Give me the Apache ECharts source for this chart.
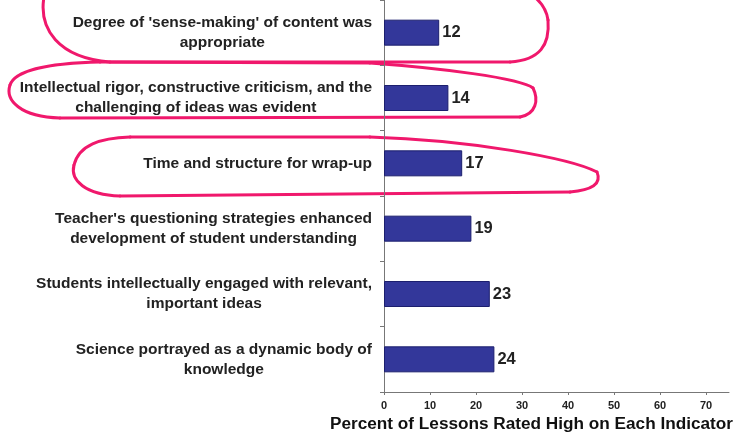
<!DOCTYPE html>
<html><head><meta charset="utf-8">
<script src="https://cdn.jsdelivr.net/npm/echarts@6/dist/echarts.min.js"></script>
<style>html,body{margin:0;padding:0;background:#fff}#c{width:737px;height:438px}</style>
</head><body><div id="c"></div>
<script>
const categories = [
  "Science portrayed as a dynamic body of\nknowledge",
  "Students intellectually engaged with relevant,\nimportant ideas",
  "Teacher's questioning strategies enhanced\ndevelopment of student understanding",
  "Time and structure for wrap-up",
  "Intellectual rigor, constructive criticism, and the\nchallenging of ideas was evident",
  "Degree of 'sense-making' of content was\nappropriate"
];
const values = [24, 23, 19, 17, 14, 12];
const axisTitle = "Percent of Lessons Rated High on Each Indicator";

const chart = echarts.init(document.getElementById('c'), null, {renderer: 'canvas'});
const FONT = '"Liberation Sans", Arial, sans-serif';
const pink = '#f0186c';

// hand-drawn annotation outlines: start point followed by segments
// ['L', x, y] line, ['C', c1x, c1y, c2x, c2y, x, y] cubic bezier
function outline(start, segs) {
  const out = [];
  let px = start[0], py = start[1];
  const st = {stroke: pink, lineWidth: 3, fill: 'none', lineCap: 'round'};
  segs.forEach(function (s) {
    if (s[0] === 'L') {
      out.push({type: 'line', shape: {x1: px, y1: py, x2: s[1], y2: s[2]}, style: st});
      px = s[1]; py = s[2];
    } else {
      out.push({type: 'bezierCurve', shape: {x1: px, y1: py, cpx1: s[1], cpy1: s[2], cpx2: s[3], cpy2: s[4], x2: s[5], y2: s[6]}, style: st});
      px = s[5]; py = s[6];
    }
  });
  return out;
}
const marks = [].concat(
  outline([45, -8], [['C', 36, 30, 60, 58, 110, 62], ['L', 510, 62], ['C', 540, 60, 550, 45, 548, 20], ['C', 546, 5, 535, -5, 520, -12]]),
  outline([100, 62], [['L', 370, 63], ['C', 440, 68, 520, 78, 533, 88], ['C', 539, 100, 536, 114, 520, 117], ['L', 60, 118], ['C', 20, 117, 5, 100, 10, 85], ['C', 15, 70, 50, 63, 100, 62]]),
  outline([130, 137], [['L', 370, 137], ['C', 470, 140, 570, 158, 597, 172], ['C', 602, 184, 592, 190, 570, 192], ['L', 120, 196], ['C', 85, 195, 70, 180, 74, 165], ['C', 79, 145, 100, 138, 130, 137]])
);

chart.setOption({
  animation: false,
  grid: {left: 384, right: 8, top: -3, bottom: 46, containLabel: false},
  xAxis: {
    type: 'value', min: 0, max: 75, interval: 10,
    axisLine: {show: true, lineStyle: {color: '#777', width: 1}},
    axisTick: {show: true, length: 3, lineStyle: {color: '#777'}},
    splitLine: {show: false},
    axisLabel: {showMaxLabel: false, color: '#222', fontFamily: FONT, fontWeight: 'bold', fontSize: 11, margin: 8}
  },
  yAxis: {
    type: 'category', data: categories,
    axisLine: {show: true, lineStyle: {color: '#777', width: 1}},
    axisTick: {show: true, length: 4, lineStyle: {color: '#777'}},
    axisLabel: {
      color: '#222', fontFamily: FONT, fontWeight: 'bold', fontSize: 15.5, margin: 12, align: 'right',
      lineHeight: 20,
      formatter: function (v) { return v.split('\n').map(function (s) { return '{c|' + s + '}'; }).join('\n'); },
      rich: {c: {align: 'center', color: '#222', fontFamily: FONT, fontWeight: 'bold', fontSize: 15.5, lineHeight: 20}}
    }
  },
  series: [{
    type: 'bar', data: values, barWidth: 26,
    itemStyle: {color: '#33379a', borderColor: '#1c1f6e', borderWidth: 1},
    label: {show: true, position: 'right', distance: 3, color: '#222', fontFamily: FONT, fontWeight: 'bold', fontSize: 16.5}
  }],
  graphic: [
    {type: 'text', left: 330, top: 416, style: {text: axisTitle, fill: '#111', font: 'bold 17.2px ' + FONT}}
  ].concat(marks)
});
</script></body></html>
